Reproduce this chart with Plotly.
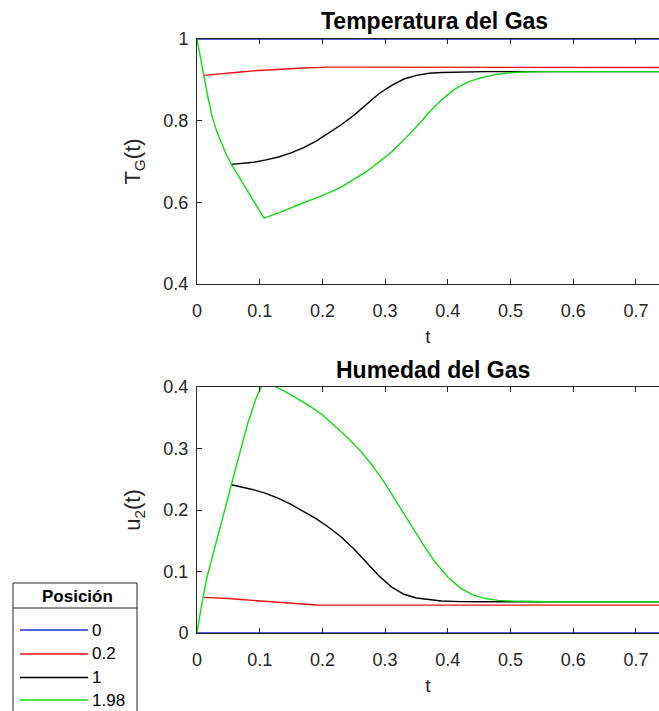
import plotly.graph_objects as go
from plotly.subplots import make_subplots

# ---- data ----
positions = ["0", "0.2", "1", "1.98"]
colors = ["#1f2fd0", "#ee1111", "#000000", "#14d814"]

# Temperatura del Gas T_G(t)
tg_t_0 = [0.0, 0.8]
tg_v_0 = [1.0, 1.0]
tg_t_02 = [0.011, 0.03, 0.05, 0.07, 0.09, 0.11, 0.13, 0.15, 0.17, 0.19, 0.21, 0.25, 0.3, 0.4, 0.8]
tg_v_02 = [0.911, 0.913, 0.916, 0.919, 0.922, 0.924, 0.926, 0.928, 0.929, 0.930, 0.931,
           0.931, 0.931, 0.931, 0.930]
tg_t_1 = [0.055, 0.07, 0.09, 0.11, 0.13, 0.15, 0.17, 0.19, 0.21, 0.23, 0.25, 0.27, 0.29,
          0.31, 0.33, 0.35, 0.37, 0.39, 0.41, 0.43, 0.46, 0.5, 0.8]
tg_v_1 = [0.693, 0.695, 0.698, 0.704, 0.711, 0.721, 0.734, 0.750, 0.769, 0.790, 0.813,
          0.840, 0.866, 0.886, 0.902, 0.911, 0.916, 0.918, 0.919, 0.920, 0.920, 0.920, 0.920]
tg_t_198 = [0.0, 0.005, 0.011, 0.018, 0.025, 0.032, 0.04, 0.047, 0.055, 0.07, 0.085, 0.1,
            0.107, 0.13, 0.15, 0.17, 0.19, 0.21, 0.23, 0.25, 0.27, 0.29, 0.31, 0.33, 0.35,
            0.37, 0.39, 0.41, 0.43, 0.45, 0.47, 0.49, 0.52, 0.56, 0.8]
tg_v_198 = [1.0, 0.958, 0.911, 0.853, 0.805, 0.772, 0.742, 0.716, 0.693, 0.654, 0.615,
            0.577, 0.561, 0.574, 0.587, 0.599, 0.611, 0.623, 0.637, 0.655, 0.675, 0.698,
            0.723, 0.753, 0.785, 0.820, 0.851, 0.876, 0.893, 0.904, 0.911, 0.916, 0.919,
            0.920, 0.920]

# Humedad del Gas u_2(t)
u_t_0 = [0.0, 0.8]
u_v_0 = [0.0, 0.0]
u_t_02 = [0.011, 0.03, 0.05, 0.07, 0.09, 0.11, 0.13, 0.15, 0.17, 0.19, 0.22, 0.3, 0.8]
u_v_02 = [0.058, 0.0575, 0.056, 0.0545, 0.053, 0.051, 0.0495, 0.048, 0.0465, 0.0455,
          0.0453, 0.0453, 0.0453]
u_t_1 = [0.055, 0.07, 0.09, 0.11, 0.13, 0.15, 0.17, 0.19, 0.21, 0.23, 0.25, 0.27, 0.29,
         0.31, 0.33, 0.35, 0.37, 0.39, 0.42, 0.46, 0.8]
u_v_1 = [0.241, 0.238, 0.233, 0.227, 0.219, 0.209, 0.198, 0.186, 0.172, 0.156, 0.137,
         0.115, 0.093, 0.075, 0.063, 0.057, 0.054, 0.052, 0.051, 0.0507, 0.0507]
u_t_198 = [0.0, 0.006, 0.0155, 0.024, 0.035, 0.0526, 0.067, 0.081, 0.094, 0.107, 0.12,
           0.14, 0.16, 0.18, 0.2, 0.22, 0.24, 0.26, 0.28, 0.3, 0.32, 0.34, 0.36, 0.38,
           0.4, 0.42, 0.44, 0.46, 0.48, 0.5, 0.53, 0.56, 0.8]
u_v_198 = [0.0, 0.038, 0.089, 0.123, 0.165, 0.2325, 0.288, 0.341, 0.381, 0.41, 0.403,
           0.393, 0.381, 0.369, 0.355, 0.337, 0.318, 0.297, 0.272, 0.243, 0.210, 0.177,
           0.145, 0.115, 0.091, 0.073, 0.062, 0.056, 0.053, 0.052, 0.051, 0.0507, 0.0507]

x_ticks = [0, 0.1, 0.2, 0.3, 0.4, 0.5, 0.6, 0.7]
tg_ticks = [0.4, 0.6, 0.8, 1]
u_ticks = [0, 0.1, 0.2, 0.3, 0.4]

# ---- figure ----
W, H = 659, 711
ML, MR, MT, MB = 197, 0, 39, 78
plot_h = H - MT - MB
top_bottom_px, bot_top_px = 284, 387

fig = make_subplots(rows=2, cols=1)
top_dom = [(H - MB - top_bottom_px) / plot_h, 1.0]
bot_dom = [0.0, (H - MB - bot_top_px) / plot_h]

FONT = "Liberation Sans, Arial, sans-serif"
AX = "#262626"

tg_series = [(tg_t_0, tg_v_0), (tg_t_02, tg_v_02), (tg_t_1, tg_v_1), (tg_t_198, tg_v_198)]
u_series = [(u_t_0, u_v_0), (u_t_02, u_v_02), (u_t_1, u_v_1), (u_t_198, u_v_198)]

for i, (name, col) in enumerate(zip(positions, colors)):
    fig.add_trace(go.Scatter(x=tg_series[i][0], y=tg_series[i][1], mode="lines",
                             line=dict(color=col, width=1.4), name=name,
                             showlegend=False), row=1, col=1)
for i, (name, col) in enumerate(zip(positions, colors)):
    fig.add_trace(go.Scatter(x=u_series[i][0], y=u_series[i][1], mode="lines",
                             line=dict(color=col, width=1.4), name=name,
                             showlegend=False), row=2, col=1)

xmax = (W - ML) / 627.0
fig.update_xaxes(range=[0, xmax], tickvals=x_ticks, ticks="inside", ticklen=5,
                 tickcolor=AX, showline=True, linecolor=AX, linewidth=1, mirror="ticks",
                 showgrid=False, zeroline=False, tickfont=dict(family=FONT, size=18, color=AX),
                 ticklabelstandoff=10,
                 title=dict(text="t", font=dict(family=FONT, size=19, color=AX), standoff=10))
fig.update_layout(
    xaxis=dict(domain=[0, 1], anchor="y"),
    xaxis2=dict(domain=[0, 1], anchor="y2"),
    yaxis=dict(domain=top_dom, range=[0.4, 1.0], tickvals=tg_ticks,
               title=dict(text="T<sub>G</sub>(t)", font=dict(family=FONT, size=22, color=AX),
                          standoff=16)),
    yaxis2=dict(domain=bot_dom, range=[0, 0.4], tickvals=u_ticks,
                title=dict(text="u<sub>2</sub>(t)", font=dict(family=FONT, size=22, color=AX),
                           standoff=16)),
)
fig.update_yaxes(ticks="inside", ticklen=5, tickcolor=AX, showline=True, linecolor=AX,
                 linewidth=1, mirror=False, showgrid=False, zeroline=False,
                 tickfont=dict(family=FONT, size=18, color=AX), ticklabelstandoff=4)


def px_x(p):
    return (p - ML) / (W - ML - MR)


def px_y(p):
    return (H - MB - p) / plot_h


fig.add_annotation(text="<b>Temperatura del Gas</b>", xref="paper", yref="paper",
                   x=px_x(434), y=px_y(21), xanchor="center", yanchor="middle",
                   showarrow=False, font=dict(family=FONT, size=23, color="#000000"))
fig.add_annotation(text="<b>Humedad del Gas</b>", xref="paper", yref="paper",
                   x=px_x(433), y=px_y(370), xanchor="center", yanchor="middle",
                   showarrow=False, font=dict(family=FONT, size=23, color="#000000"))

# ---- legend box (MATLAB style, with title) ----
fig.add_shape(type="rect", xref="paper", yref="paper",
              x0=px_x(13), x1=px_x(137), y0=px_y(583), y1=px_y(730),
              line=dict(color=AX, width=1), fillcolor="white", layer="above")
fig.add_shape(type="line", xref="paper", yref="paper",
              x0=px_x(13), x1=px_x(137), y0=px_y(608), y1=px_y(608),
              line=dict(color=AX, width=1), layer="above")
fig.add_annotation(text="<b>Posición</b>", xref="paper", yref="paper",
                   x=px_x(77), y=px_y(596), xanchor="center", yanchor="middle",
                   showarrow=False, font=dict(family=FONT, size=17, color="#000000"))
entry_y = [630, 654, 677.5, 700]
for name, col, ey in zip(positions, colors, entry_y):
    fig.add_shape(type="line", xref="paper", yref="paper",
                  x0=px_x(20), x1=px_x(88), y0=px_y(ey), y1=px_y(ey),
                  line=dict(color=col, width=1.4), layer="above")
    fig.add_annotation(text=name, xref="paper", yref="paper",
                       x=px_x(90), y=px_y(ey), xanchor="left", yanchor="middle",
                       showarrow=False, font=dict(family=FONT, size=17, color="#000000"))

fig.update_layout(
    width=W, height=H,
    margin=dict(l=ML, r=MR, t=MT, b=MB, autoexpand=False),
    paper_bgcolor="white", plot_bgcolor="white",
    font=dict(family=FONT, color=AX),
    showlegend=False,
)

fig.write_html("out.html")
